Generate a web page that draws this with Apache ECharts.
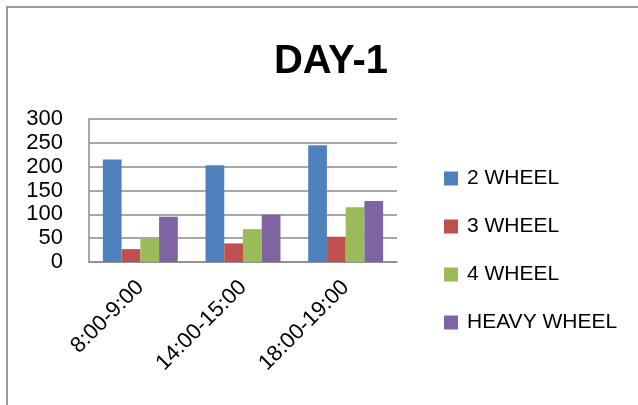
<!DOCTYPE html>
<html>
<head>
<meta charset="utf-8">
<script src="https://cdn.jsdelivr.net/npm/echarts@6/dist/echarts.min.js"></script>
<style>
  html, body { margin: 0; padding: 0; background: #fff; }
  #chart { width: 638px; height: 405px; }
</style>
</head>
<body>
<div id="chart"></div>
<script>
// Traffic counts per time slot, day 1
const timeSlots = ['8:00-9:00', '14:00-15:00', '18:00-19:00'];
const twoWheel = [215, 203, 245];
const threeWheel = [27, 39, 53];
const fourWheel = [49, 69, 115];
const heavyWheel = [95, 99, 128];
const yTicks = { min: 0, max: 300, interval: 50 };

const font = 'Liberation Sans, Arial, sans-serif';
const chart = echarts.init(document.getElementById('chart'));

const seriesDefs = [
  { name: '2 WHEEL', data: twoWheel, color: '#4F81BD' },
  { name: '3 WHEEL', data: threeWheel, color: '#C0504D' },
  { name: '4 WHEEL', data: fourWheel, color: '#9BBB59' },
  { name: 'HEAVY WHEEL', data: heavyWheel, color: '#8064A2' }
];

chart.setOption({
  animation: false,
  backgroundColor: '#fff',
  title: {
    text: 'DAY-1',
    left: 326,
    textAlign: 'center',
    top: 37,
    textStyle: { fontFamily: font, fontWeight: 'bold', fontSize: 40, color: '#000' }
  },
  graphic: [{
    type: 'rect',
    shape: { x: 7, y: 7, width: 700, height: 500 },
    style: { fill: 'none', stroke: '#9a9a9a', lineWidth: 2 },
    silent: true
  }],
  legend: {
    orient: 'vertical',
    left: 439,
    top: 163,
    itemWidth: 14,
    itemHeight: 14,
    itemGap: 27,
    icon: 'rect',
    textStyle: { fontFamily: font, fontSize: 21, color: '#000', padding: [0, 0, 0, 4] }
  },
  grid: { left: 89, top: 119, width: 308, height: 143, containLabel: false },
  xAxis: {
    type: 'category',
    data: timeSlots,
    axisLine: { show: true, lineStyle: { color: '#8a8a8a', width: 1.5 } },
    axisTick: { show: false },
    axisLabel: { rotate: 45, margin: 22, fontFamily: font, fontSize: 22, color: '#000' }
  },
  yAxis: {
    type: 'value',
    min: yTicks.min,
    max: yTicks.max,
    interval: yTicks.interval,
    axisLine: { show: true, lineStyle: { color: '#8a8a8a', width: 1.5 } },
    axisTick: { show: false },
    splitLine: { lineStyle: { color: '#8a8a8a', width: 1.5 } },
    axisLabel: { margin: 26, fontFamily: font, fontSize: 22, color: '#000' }
  },
  series: seriesDefs.map(s => ({
    name: s.name,
    type: 'bar',
    data: s.data,
    barGap: '0%',
    barCategoryGap: '27%',
    itemStyle: { color: s.color }
  }))
});
</script>
</body>
</html>
